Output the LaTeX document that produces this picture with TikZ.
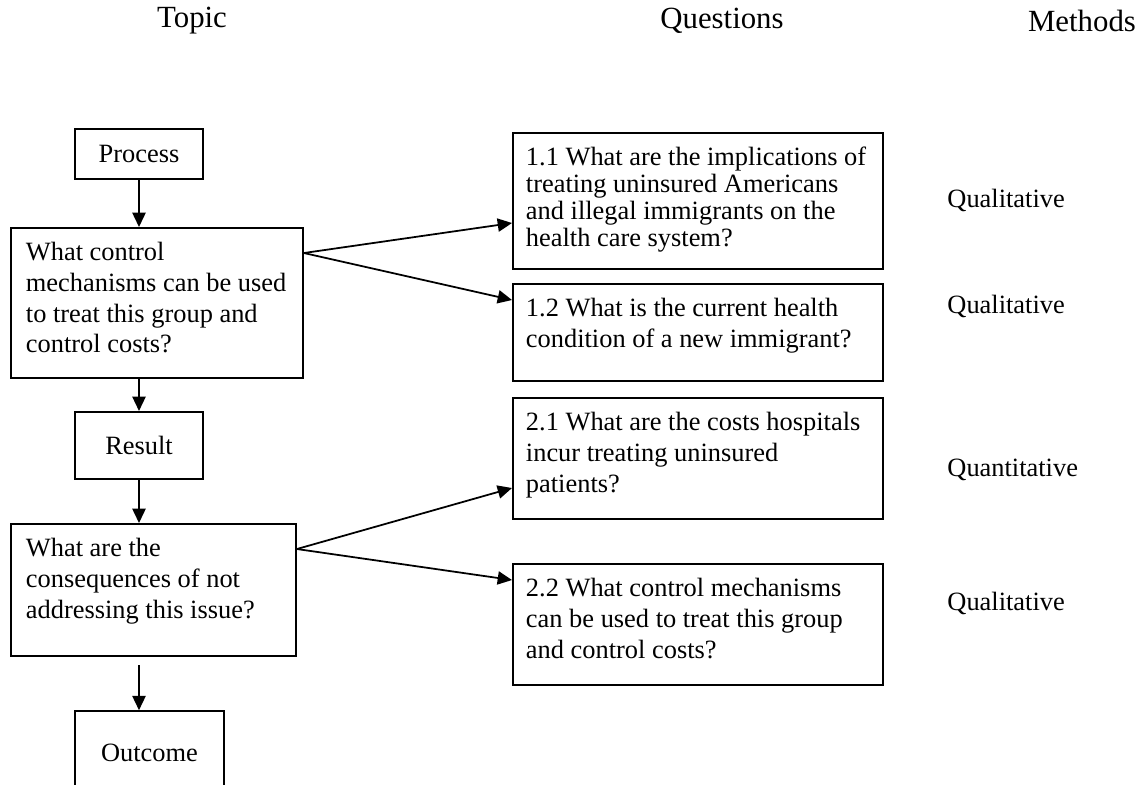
\documentclass[tikz,border=0pt]{standalone}
\usepackage{fontspec}
\setmainfont{Liberation Serif}
\usetikzlibrary{arrows.meta, positioning, calc}

\newdimen\pxu
\pxu=0.4545pt
\newcommand{\qtext}[3]{\parbox[c][#2\pxu][t]{#1\pxu}{\raggedright #3}}

\begin{document}
\begin{tikzpicture}[x=0.4545pt, y=-0.4545pt, >={Triangle[length=6.5pt,width=6pt]},
    every node/.style={font=\fontsize{12pt}{14pt}\selectfont},
    stage/.style={draw, line width=0.9pt, rectangle, align=center, inner sep=0pt},
    qbox/.style={draw, line width=0.9pt, rectangle, anchor=north west, inner xsep=6.8pt, inner ysep=6.4pt},
    rbox/.style={qbox, inner xsep=5.9pt},
    head/.style={inner sep=0pt, font=\fontsize{14pt}{16pt}\selectfont},
    method/.style={anchor=west, inner sep=0pt},
    link/.style={->, line width=0.8pt}]
    \useasboundingbox (0,0) rectangle (1144,784);
    \clip (0,0) rectangle (1144,784);

    % column titles
    \node [head] (topic) at (192,21) {Topic};
    \node [head] (questions) at (722,21) {Questions};
    \node [head] (methods) at (1082,21) {Methods};

    % topic column
    \node [stage, minimum width=58.2pt, minimum height=22.7pt] (process) at (139,154) {Process};
    \node [qbox] (topicq1) at (10,227) {\qtext{262}{122}{What control\\mechanisms can be used\\to treat this group and\\control costs?}};
    \node [stage, minimum width=58.2pt, minimum height=30.5pt] (result) at (139,445.5) {Result};
    \node [qbox] (topicq2) at (10,523) {\qtext{255}{104}{What are the\\consequences of not\\addressing this issue?}};
    \node [stage, minimum width=67.7pt, minimum height=38pt] (outcome) at (149.5,753) {Outcome};

    \draw[link] (process) -- (topicq1.north -| process);
    \draw[link] (topicq1.south -| result) -- (result);
    \draw[link] (result) -- (topicq2.north -| result);
    \draw[link] ($(topicq2.south -| result)+(0,8)$) -- (outcome.north -| result);

    % question column
    \node [rbox, font=\fontsize{12pt}{12.3pt}\selectfont] (q11) at (512,132) {\qtext{344}{108}{1.1 What are the implications of\\treating uninsured Americans\\and illegal immigrants on the\\health care system?}};
    \node [rbox] (q12) at (512,283) {\qtext{344}{69}{1.2 What is the current health\\condition of a new immigrant?}};
    \node [rbox] (q21) at (512,397) {\qtext{344}{93}{2.1 What are the costs hospitals\\incur treating uninsured\\patients?}};
    \node [rbox] (q22) at (512,563) {\qtext{344}{93}{2.2 What control mechanisms\\can be used to treat this group\\and control costs?}};

    \draw[link] ([shift={(0,26)}]topicq1.north east) -- ([shift={(0,91)}]q11.north west);
    \draw[link] ([shift={(0,26)}]topicq1.north east) -- ([shift={(0,17)}]q12.north west);
    \draw[link] ([shift={(0,26)}]topicq2.north east) -- ([shift={(0,91)}]q21.north west);
    \draw[link] ([shift={(0,26)}]topicq2.north east) -- ([shift={(0,17)}]q22.north west);

    % methods column
    \node [method] (m11) at (947,200) {Qualitative};
    \node [method] (m12) at (947,306) {Qualitative};
    \node [method] (m21) at (947,470) {Quantitative};
    \node [method] (m22) at (947,603) {Qualitative};
\end{tikzpicture}
\end{document}
